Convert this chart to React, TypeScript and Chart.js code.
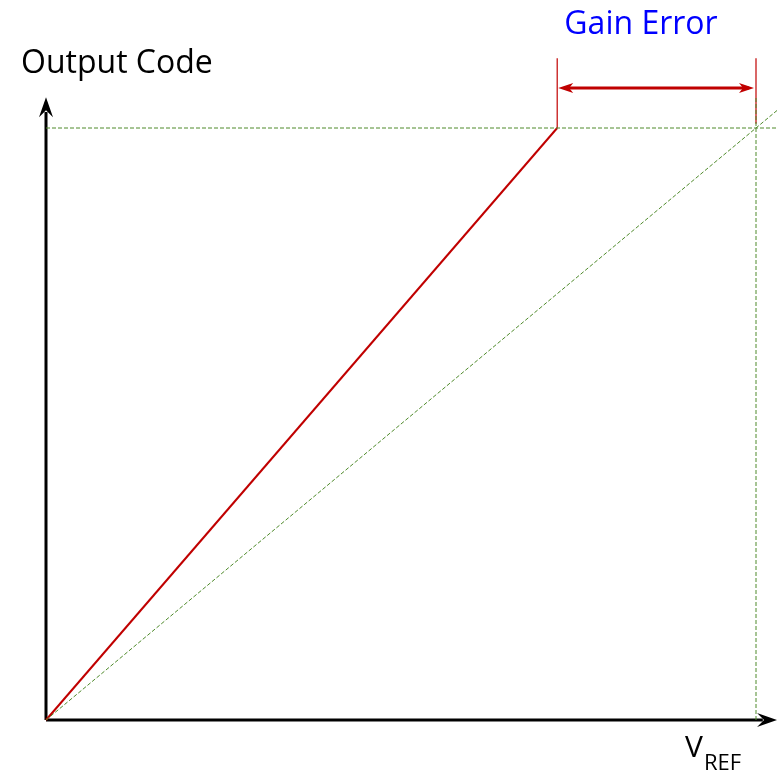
import React, { useEffect, useRef } from "react";
import { Chart, registerables } from "chart.js";
Chart.register(...registerables);

// Data in normalised units: x = input voltage / VREF, y = output code / full scale
const origin = [0, 0];
const actualEnd = [0.72, 1.0]; // actual transfer reaches full scale early
const idealEnd = [1.0296, 1.0296]; // ideal transfer (dashed)
const fullScaleCode = 1.0;
const vrefX = 1.0;
const axisXEnd = 1.0296;
const axisYEnd = 1.052;
const markerTop = 1.118;
const arrowY = 1.0676;
const vrefMarkerBottom = 1.007;
const vrefGuideTop = 1.054;

const titleY = "Output Code";
const titleX = "V";
const titleXSub = "REF";
const gainLabel = "Gain Error";

const RED = "#c00000";
const GREEN = "#4f8a2b";
const FONT = "'Open Sans', 'Noto Sans', sans-serif";

const seg = (a: number[], b: number[], color: string, width: number, dash: number[] = []) => ({
  data: [
    { x: a[0], y: a[1] },
    { x: b[0], y: b[1] },
  ],
  borderColor: color,
  borderWidth: width,
  borderDash: dash,
  pointRadius: 0,
  showLine: true,
  fill: false,
  tension: 0,
});

const overlay = {
  id: "overlay",
  afterDatasetsDraw(chart: any) {
    const ctx = chart.ctx;
    const xs = chart.scales.x;
    const ys = chart.scales.y;
    const px = (v: number) => xs.getPixelForValue(v);
    const py = (v: number) => ys.getPixelForValue(v);

    const head = (tx: number, ty: number, dx: number, dy: number, color: string, len: number, half: number, notch: number) => {
      const nx = -dy, ny = dx;
      ctx.save();
      ctx.fillStyle = color;
      ctx.beginPath();
      ctx.moveTo(tx, ty);
      ctx.lineTo(tx - dx * len + nx * half, ty - dy * len + ny * half);
      ctx.lineTo(tx - dx * (len - notch), ty - dy * (len - notch));
      ctx.lineTo(tx - dx * len - nx * half, ty - dy * len - ny * half);
      ctx.closePath();
      ctx.fill();
      ctx.restore();
    };

    // axis arrowheads
    head(px(0), py(axisYEnd), 0, -1, "#000", 20, 7, 7);
    head(px(axisXEnd), py(0), 1, 0, "#000", 20, 7, 7);
    // gain error arrowheads
    head(px(actualEnd[0]) + 1, py(arrowY), -1, 0, RED, 15, 5, 4);
    head(px(vrefX) - 2, py(arrowY), 1, 0, RED, 15, 5, 4);

    ctx.save();
    ctx.textBaseline = "alphabetic";
    ctx.fillStyle = "#0000ff";
    ctx.font = `32px ${FONT}`;
    ctx.textAlign = "center";
    ctx.fillText(gainLabel, 641, 34);

    ctx.fillStyle = "#000";
    ctx.textAlign = "left";
    ctx.fillText(titleY, 21, 73);

    ctx.font = `30px ${FONT}`;
    ctx.fillText(titleX, 685, 757);
    const w = ctx.measureText(titleX).width;
    ctx.font = `22px ${FONT}`;
    ctx.fillText(titleXSub, 685 + w + 1, 770);
    ctx.restore();
  },
};

export default function App() {
  const ref = useRef<HTMLCanvasElement>(null);
  useEffect(() => {
    if (!ref.current) return;
    const chart = new Chart(ref.current, {
      type: "scatter",
      data: {
        datasets: [
          seg([0, fullScaleCode], [axisXEnd, fullScaleCode], GREEN, 1, [4, 2]),
          seg([vrefX, 0], [vrefX, vrefGuideTop], GREEN, 1, [4, 2]),
          seg(origin, idealEnd, GREEN, 1, [4, 2]),
          seg(origin, actualEnd, RED, 2),
          seg([actualEnd[0], fullScaleCode], [actualEnd[0], markerTop], RED, 1.2),
          seg([vrefX, vrefMarkerBottom], [vrefX, markerTop], RED, 1.2),
          seg([actualEnd[0] + 0.01, arrowY], [vrefX - 0.01, arrowY], RED, 3),
          seg([0, 0], [axisXEnd - 0.02, 0], "#000", 3),
          seg([0, 0], [0, axisYEnd - 0.025], "#000", 3),
        ] as any,
      },
      options: {
        animation: false,
        responsive: false,
        maintainAspectRatio: false,
        layout: { padding: 0 },
        plugins: { legend: { display: false }, tooltip: { enabled: false } },
        scales: {
          x: { type: "linear", min: -46 / 710, max: 731 / 710, display: false },
          y: { type: "linear", min: -51 / 592, max: 720 / 592, display: false },
        },
      },
      plugins: [overlay],
    });
    return () => chart.destroy();
  }, []);
  return (
    <div style={{ position: "absolute", left: 0, top: 0, width: 777, height: 771, background: "#fff" }}>
      <canvas ref={ref} width={777} height={771} style={{ width: 777, height: 771 }} />
    </div>
  );
}
